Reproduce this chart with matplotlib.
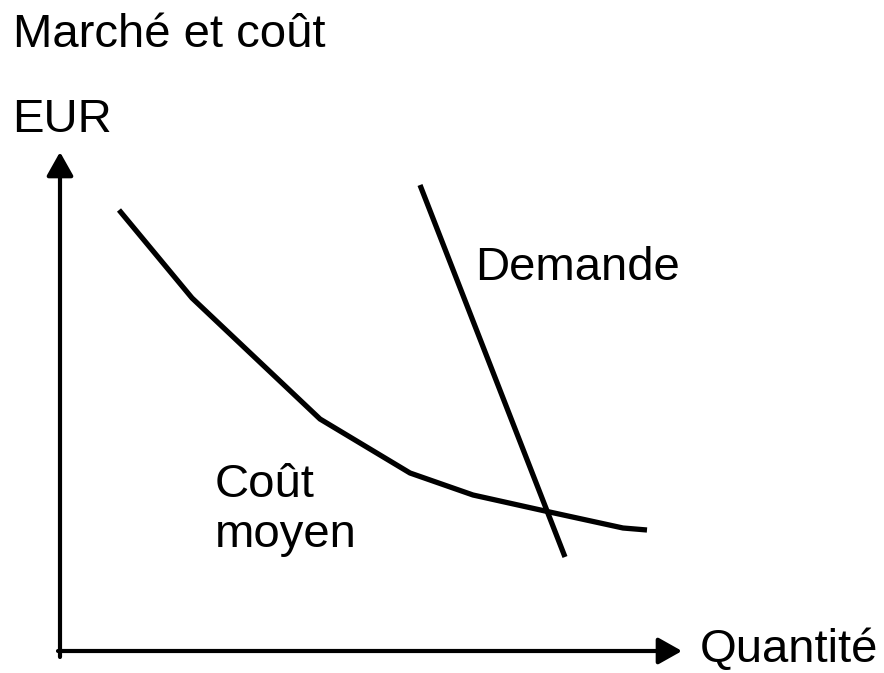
import matplotlib
matplotlib.use("Agg")
import matplotlib.pyplot as plt

plt.rcParams['font.family'] = ['Liberation Sans', 'DejaVu Sans']

# Schematic data (arbitrary units: quantity, EUR) with origin at axes crossing
cost_q = [59, 132, 260, 350, 413, 485, 563, 587]
cost_p = [441, 353, 232, 178, 156, 140, 123, 121]
demand_q = [360, 505]
demand_p = [466, 94]

title_text = "Marché et coût"
y_label = "EUR"
x_label = "Quantité"
demand_label = "Demande"
cost_label = "Coût\nmoyen"

fig = plt.figure(figsize=(8.84, 6.73), dpi=100)
ax = fig.add_axes([0, 0, 1, 1])
ax.set_xlim(-60, 824)
ax.set_ylim(-22, 651)
ax.axis('off')

# axes arrows
arrow_style = '-|>,head_length=0.8,head_width=0.45'
ax.annotate('', xy=(0, 499), xytext=(0, -6),
            arrowprops=dict(arrowstyle=arrow_style, lw=3, color='black',
                            mutation_scale=18, shrinkA=0, shrinkB=0))
ax.annotate('', xy=(622, 0), xytext=(-2, 0),
            arrowprops=dict(arrowstyle=arrow_style, lw=3, color='black',
                            mutation_scale=18, shrinkA=0, shrinkB=0))

ax.plot(cost_q, cost_p, color='black', lw=3.8, solid_joinstyle='miter', solid_capstyle='butt')
ax.plot(demand_q, demand_p, color='black', lw=3.8, solid_capstyle='butt')

fs = 34
ax.text(-47, 604, title_text, fontsize=fs, ha='left', va='baseline')
ax.text(-48, 519, y_label, fontsize=fs, ha='left', va='baseline')
ax.text(415, 371, demand_label, fontsize=fs, ha='left', va='baseline')
ax.text(155, 154, "Coût", fontsize=fs, ha='left', va='baseline')
ax.text(155, 104, "moyen", fontsize=fs, ha='left', va='baseline')
ax.text(640, -11, x_label, fontsize=fs, ha='left', va='baseline')

fig.savefig("out.png", dpi=100)
